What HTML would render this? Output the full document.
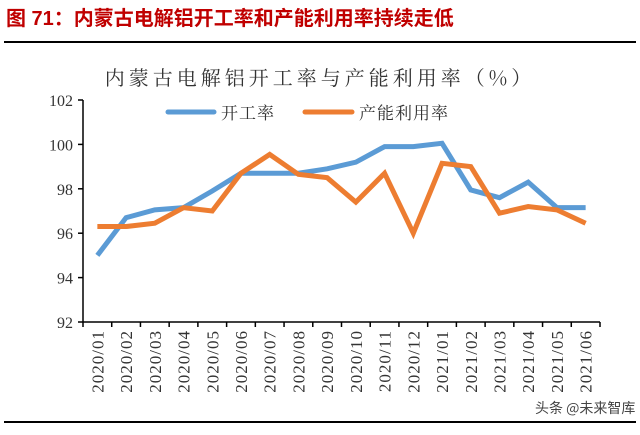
<!DOCTYPE html>
<html><head><meta charset="utf-8"><style>
body{margin:0;background:#fff;width:640px;height:430px;overflow:hidden;font-family:"Liberation Serif","Noto Serif CJK SC",serif}
</style></head><body>
<svg width="640" height="430" viewBox="0 0 640 430">
<text x="6" y="25" fill="#c00000" font-size="20" font-weight="bold" font-family="Liberation Sans,Noto Sans CJK SC,sans-serif">图 71：内蒙古电解铝开工率和产能利用率持续走低</text>
<line x1="4" y1="42" x2="636" y2="42" stroke="#000" stroke-width="2"/>
<text x="320" y="85" text-anchor="middle" font-size="20" fill="#333" font-family="Noto Serif CJK SC,serif" letter-spacing="4">内蒙古电解铝开工率与产能利用率（%）</text>
<g>
<line x1="168" y1="112" x2="214" y2="112" stroke="#5b9bd5" stroke-width="5" stroke-linecap="round"/>
<text x="221" y="119" font-size="17" fill="#333" letter-spacing="1" font-family="Noto Serif CJK SC,serif">开工率</text>
<line x1="305" y1="112" x2="352" y2="112" stroke="#ed7d31" stroke-width="5" stroke-linecap="round"/>
<text x="359" y="119" font-size="17" fill="#333" letter-spacing="1" font-family="Noto Serif CJK SC,serif">产能利用率</text>
</g>
<g id="axes"></g>
<g id="series"></g>
<line x1="4" y1="422" x2="636" y2="422" stroke="#000" stroke-width="2"/>
<text x="535" y="413" font-size="14" fill="#444" font-family="Noto Sans CJK SC,sans-serif">头条 @未来智库</text>
</svg>
<script>
const categories=["2020/01","2020/02","2020/03","2020/04","2020/05","2020/06","2020/07","2020/08","2020/09","2020/10","2020/11","2020/12","2021/01","2021/02","2021/03","2021/04","2021/05","2021/06"];
const kaigong=[95.0,96.7,97.05,97.15,97.9,98.7,98.7,98.7,98.9,99.2,99.9,99.9,100.05,97.95,97.6,98.3,97.15,97.15];
const channeng=[96.3,96.3,96.45,97.15,97.0,98.7,99.55,98.65,98.5,97.4,98.7,96.0,99.15,99.0,96.9,97.2,97.05,96.45];
const yTicks=[92,94,96,98,100,102];
const NS="http://www.w3.org/2000/svg";
const L=83,R=600,T=100,B=322,ymin=92,ymax=102;
const band=(R-L)/categories.length;
const xs=i=>L+band*(i+0.5);
const ys=v=>B-(v-ymin)/(ymax-ymin)*(B-T);
const ax=document.getElementById('axes'),se=document.getElementById('series');
function mk(t,a,p){const e=document.createElementNS(NS,t);for(const k in a)e.setAttribute(k,a[k]);p.appendChild(e);return e;}
let e=mk('line',{x1:L,y1:T,x2:L,y2:B,stroke:'#000','stroke-width':1.5},ax);


e=mk('line',{x1:L,y1:B,x2:R,y2:B,stroke:'#000','stroke-width':1.5},ax);


yTicks.forEach(v=>{
 const y=ys(v);
 let t=mk('line',{x1:L-5,y1:y,x2:L,y2:y,stroke:'#000','stroke-width':1.5},ax);
 
 
 let l=mk('text',{x:L-10,y:y+6,'text-anchor':'end','font-size':16,fill:'#333'},ax);
 l.textContent=v;
 
 
});
for(let i=0;i<=categories.length;i++){
 const x=L+band*i;
 let t=mk('line',{x1:x,y1:B,x2:x,y2:B+5,stroke:'#000','stroke-width':1.5},ax);
 
 
}
categories.forEach((c,i)=>{
 const x=xs(i)+6,y=B+8;
 let l=mk('text',{x:x,y:y,'text-anchor':'end','font-size':17,'letter-spacing':1,fill:'#333',transform:`rotate(-90 ${x} ${y})`},ax);
 l.textContent=c;
 
 
});
function line(vals,col,name){
 const p=mk('polyline',{points:vals.map((v,i)=>xs(i)+','+ys(v)).join(' '),fill:'none',stroke:col,'stroke-width':5,'stroke-linejoin':'miter'},se);
 
 
}
line(kaigong,'#5b9bd5','kaigong-line');
line(channeng,'#ed7d31','channeng-line');
</script>
</body></html>
